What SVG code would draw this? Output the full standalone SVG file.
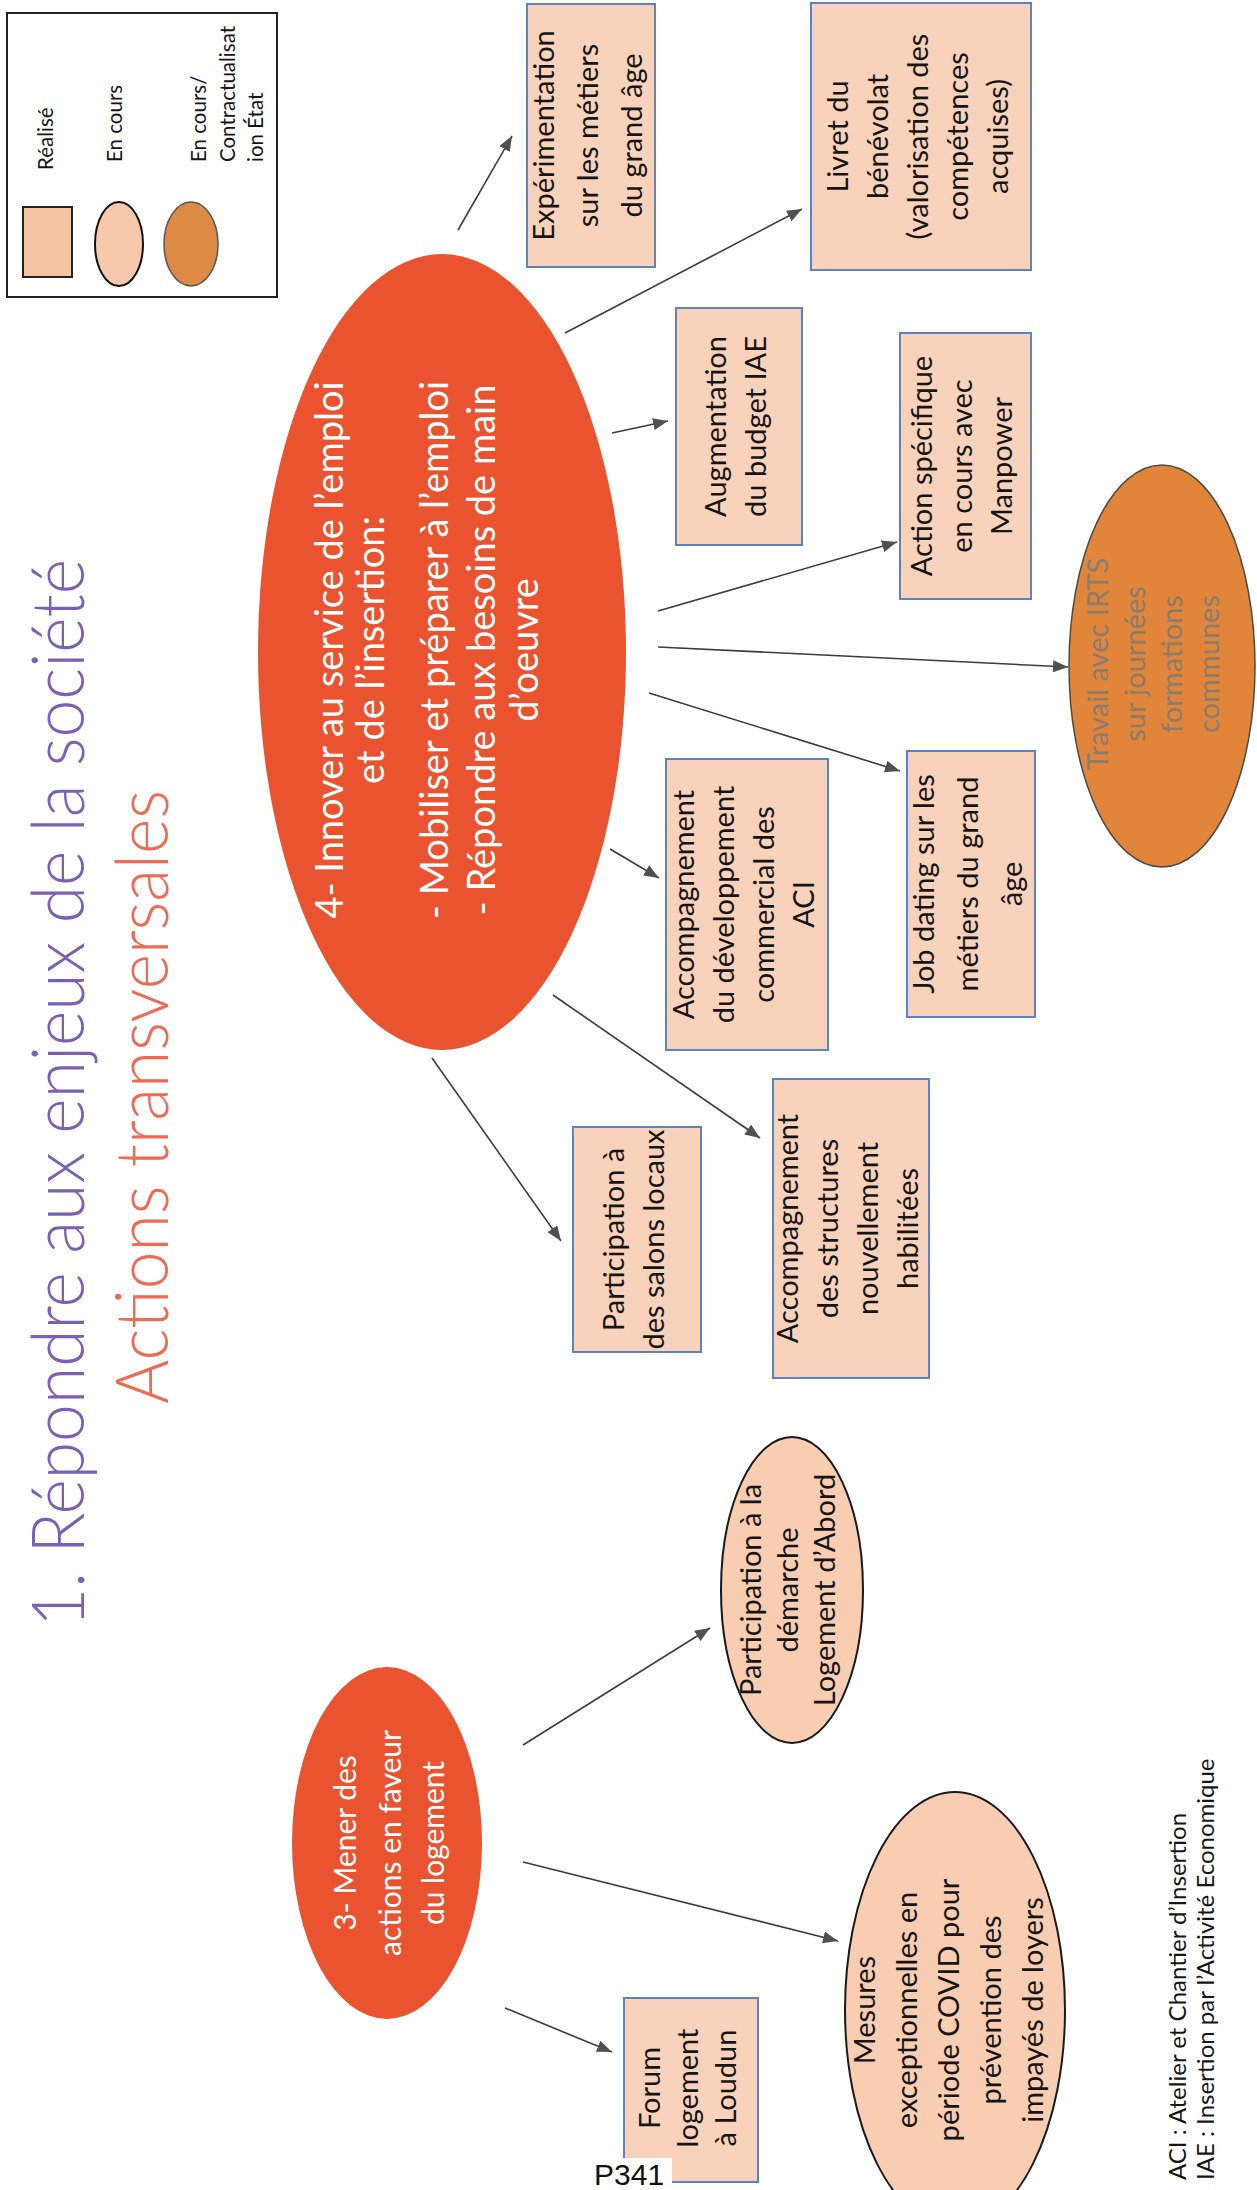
<svg xmlns="http://www.w3.org/2000/svg" width="1257" height="2190" viewBox="0 0 1257 2190">
  <defs>
    <marker id="ah" markerUnits="userSpaceOnUse" markerWidth="16" markerHeight="12" refX="15" refY="6" orient="auto">
      <path d="M0,0 L15,6 L0,12 Z" fill="#505050"/>
    </marker>
    <style>
      .box { fill:#f9d2bb; stroke:#5a82c4; stroke-width:2; }
      .goal { fill:#e9532f; }
      .wip { fill:#f8cdb2; stroke:#1a1a1a; stroke-width:2; }
      .state { fill:#e1853b; stroke:#4a4a4a; stroke-width:1.5; }
      .t { font-family:Lato, "Open Sans", "DejaVu Sans", sans-serif; font-size:29px; fill:#151515; text-anchor:middle; }
      .tw { font-family:Lato, "Open Sans", "DejaVu Sans", sans-serif; font-size:38px; fill:#ffffff; text-anchor:middle; }
      .tw3 { font-family:Lato, "Open Sans", "DejaVu Sans", sans-serif; font-size:30px; fill:#ffffff; text-anchor:middle; }
      .tg { font-family:Lato, "Open Sans", "DejaVu Sans", sans-serif; font-size:29px; fill:#8d7b6b; text-anchor:middle; }
      .leg { font-family:Lato, "Open Sans", "DejaVu Sans", sans-serif; font-size:20.5px; fill:#151515; }
      .note { font-family:Lato, "Open Sans", "DejaVu Sans", sans-serif; font-size:24px; fill:#151515; }
      .head { font-family:Lato, "Open Sans", sans-serif; font-weight:300; font-size:72px; }
      .conn line { stroke:#3c3c3c; stroke-width:1.6; marker-end:url(#ah); }
    </style>
  </defs>

  <rect width="1257" height="2190" fill="#ffffff"/>

  <!-- legend -->
  <g id="legend">
    <rect x="7" y="13" width="270" height="284" fill="#ffffff" stroke="#222" stroke-width="2"/>
    <rect x="23" y="207" width="49" height="70" fill="#f3c4a2" stroke="#222" stroke-width="2"/>
    <ellipse cx="119" cy="244" rx="24" ry="42" fill="#f6c9ad" stroke="#111" stroke-width="2"/>
    <ellipse cx="191" cy="244" rx="27" ry="42" fill="#dd8a45" stroke="#555" stroke-width="1.5"/>
    <g transform="translate(53,170) rotate(-90)"><text class="leg">Réalisé</text></g>
    <g transform="translate(122,162) rotate(-90)"><text class="leg">En cours</text></g>
    <g transform="translate(206,162) rotate(-90)">
      <text class="leg" y="0">En cours/</text>
      <text class="leg" y="29">Contractualisat</text>
      <text class="leg" y="57">ion État</text>
    </g>
  </g>

  <!-- title -->
  <g id="title">
    <g transform="translate(84,1627) rotate(-90)">
      <text class="head" fill="#7b5fb5" textLength="1068" lengthAdjust="spacingAndGlyphs">1. Répondre aux enjeux de la société</text>
    </g>
    <g transform="translate(168,1404) rotate(-90)">
      <text class="head" fill="#ef6a55" textLength="614" lengthAdjust="spacingAndGlyphs">Actions transversales</text>
    </g>
  </g>

  <!-- connectors -->
  <g id="connectors" class="conn">
    <line x1="458" y1="230" x2="512" y2="136"/>
    <line x1="565" y1="333" x2="802" y2="209"/>
    <line x1="612" y1="433" x2="668" y2="421"/>
    <line x1="658" y1="611" x2="897" y2="542"/>
    <line x1="658" y1="647" x2="1068" y2="667"/>
    <line x1="649" y1="693" x2="900" y2="771"/>
    <line x1="610" y1="849" x2="659" y2="878"/>
    <line x1="553" y1="995" x2="760" y2="1138"/>
    <line x1="432" y1="1058" x2="561" y2="1241"/>
    <line x1="523" y1="1745" x2="710" y2="1628"/>
    <line x1="523" y1="1862" x2="838" y2="1941"/>
    <line x1="505" y1="2008" x2="612" y2="2052"/>
  </g>

  <!-- goal 4 -->
  <g id="goal-emploi">
    <ellipse class="goal" cx="442" cy="652" rx="184" ry="398"/>
    <g transform="translate(442,650) rotate(-90)">
      <text class="tw" y="-99.5">4- Innover au service de l’emploi</text>
      <text class="tw" y="-58.5">et de l’insertion:</text>
      <text class="tw" y="5.5">- Mobiliser et préparer à l’emploi</text>
      <text class="tw" y="52.5">- Répondre aux besoins de main</text>
      <text class="tw" y="95.5">d’oeuvre</text>
    </g>
  </g>

  <!-- goal 3 -->
  <g id="goal-logement">
    <ellipse class="goal" cx="387" cy="1843" rx="95" ry="176"/>
    <g transform="translate(387,1843) rotate(-90)">
      <text class="tw3" y="-31">3- Mener des</text>
      <text class="tw3" y="14">actions en faveur</text>
      <text class="tw3" y="57">du logement</text>
    </g>
  </g>

  <g id="experimentation">
    <rect class="box" x="527" y="4" width="128" height="263"/>
    <g transform="translate(591,135.5) rotate(-90)">
      <text class="t" y="-37">Expérimentation</text>
      <text class="t" y="7">sur les métiers</text>
      <text class="t" y="51">du grand âge</text>
    </g>
  </g>

  <g id="livret">
    <rect class="box" x="811" y="3" width="220" height="267"/>
    <g transform="translate(921,136.5) rotate(-90)">
      <text class="t" y="-73">Livret du</text>
      <text class="t" y="-33">bénévolat</text>
      <text class="t" y="7">(valorisation des</text>
      <text class="t" y="47">compétences</text>
      <text class="t" y="87">acquises)</text>
    </g>
  </g>

  <g id="budget-iae">
    <rect class="box" x="676" y="308" width="126" height="237"/>
    <g transform="translate(739,426.5) rotate(-90)">
      <text class="t" y="-13">Augmentation</text>
      <text class="t" y="27">du budget IAE</text>
    </g>
  </g>

  <g id="manpower">
    <rect class="box" x="900" y="333" width="131" height="266"/>
    <g transform="translate(965.5,466) rotate(-90)">
      <text class="t" y="-33.5">Action spécifique</text>
      <text class="t" y="6.5">en cours avec</text>
      <text class="t" y="46.5">Manpower</text>
    </g>
  </g>

  <g id="irts">
    <ellipse class="state" cx="1162" cy="666" rx="93" ry="201"/>
    <g transform="translate(1162,664) rotate(-90)">
      <text class="tg" y="-54">Travail avec IRTS</text>
      <text class="tg" y="-17">sur journées</text>
      <text class="tg" y="20">formations</text>
      <text class="tg" y="57">communes</text>
    </g>
  </g>

  <g id="aci">
    <rect class="box" x="666" y="759" width="162" height="291"/>
    <g transform="translate(747,904.5) rotate(-90)">
      <text class="t" y="-53">Accompagnement</text>
      <text class="t" y="-13">du développement</text>
      <text class="t" y="27">commercial des</text>
      <text class="t" y="67">ACI</text>
    </g>
  </g>

  <g id="job-dating">
    <rect class="box" x="907" y="751" width="128" height="266"/>
    <g transform="translate(971,884) rotate(-90)">
      <text class="t" y="-37">Job dating sur les</text>
      <text class="t" y="7">métiers du grand</text>
      <text class="t" y="51">âge</text>
    </g>
  </g>

  <g id="salons">
    <rect class="box" x="573" y="1127" width="128" height="225"/>
    <g transform="translate(637,1239.5) rotate(-90)">
      <text class="t" y="-13">Participation à</text>
      <text class="t" y="27">des salons locaux</text>
    </g>
  </g>

  <g id="structures">
    <rect class="box" x="773" y="1079" width="156" height="299"/>
    <g transform="translate(851,1228.5) rotate(-90)">
      <text class="t" y="-53">Accompagnement</text>
      <text class="t" y="-13">des structures</text>
      <text class="t" y="27">nouvellement</text>
      <text class="t" y="67">habilitées</text>
    </g>
  </g>

  <g id="logement-abord">
    <ellipse class="wip" cx="792" cy="1590" rx="71" ry="153"/>
    <g transform="translate(792,1590) rotate(-90)">
      <text class="t" y="-31">Participation à la</text>
      <text class="t" y="6">démarche</text>
      <text class="t" y="43">Logement d’Abord</text>
    </g>
  </g>

  <g id="covid">
    <ellipse class="wip" cx="955" cy="2010" rx="110" ry="218"/>
    <g transform="translate(955,2010) rotate(-90)">
      <text class="t" y="-80">Mesures</text>
      <text class="t" y="-38">exceptionnelles en</text>
      <text class="t" y="4">période COVID pour</text>
      <text class="t" y="46">prévention des</text>
      <text class="t" y="88">impayés de loyers</text>
    </g>
  </g>

  <g id="forum">
    <rect class="box" x="624" y="1998" width="134" height="184"/>
    <g transform="translate(691,2088) rotate(-90)">
      <text class="t" y="-31">Forum</text>
      <text class="t" y="7">logement</text>
      <text class="t" y="45">à Loudun</text>
    </g>
  </g>

  <!-- page number -->
  <g id="page">
    <rect x="590" y="2158" width="82" height="32" fill="#ffffff"/>
    <text x="594" y="2185" font-family="'Liberation Sans', Arial, sans-serif" font-size="30" fill="#111">P341</text>
  </g>

  <!-- abbreviations -->
  <g id="abbreviations" transform="translate(1186,2180) rotate(-90)">
    <text class="note" y="0">ACI : Atelier et Chantier d’Insertion</text>
    <text class="note" y="28">IAE :  Insertion par l’Activité Economique</text>
  </g>
</svg>
